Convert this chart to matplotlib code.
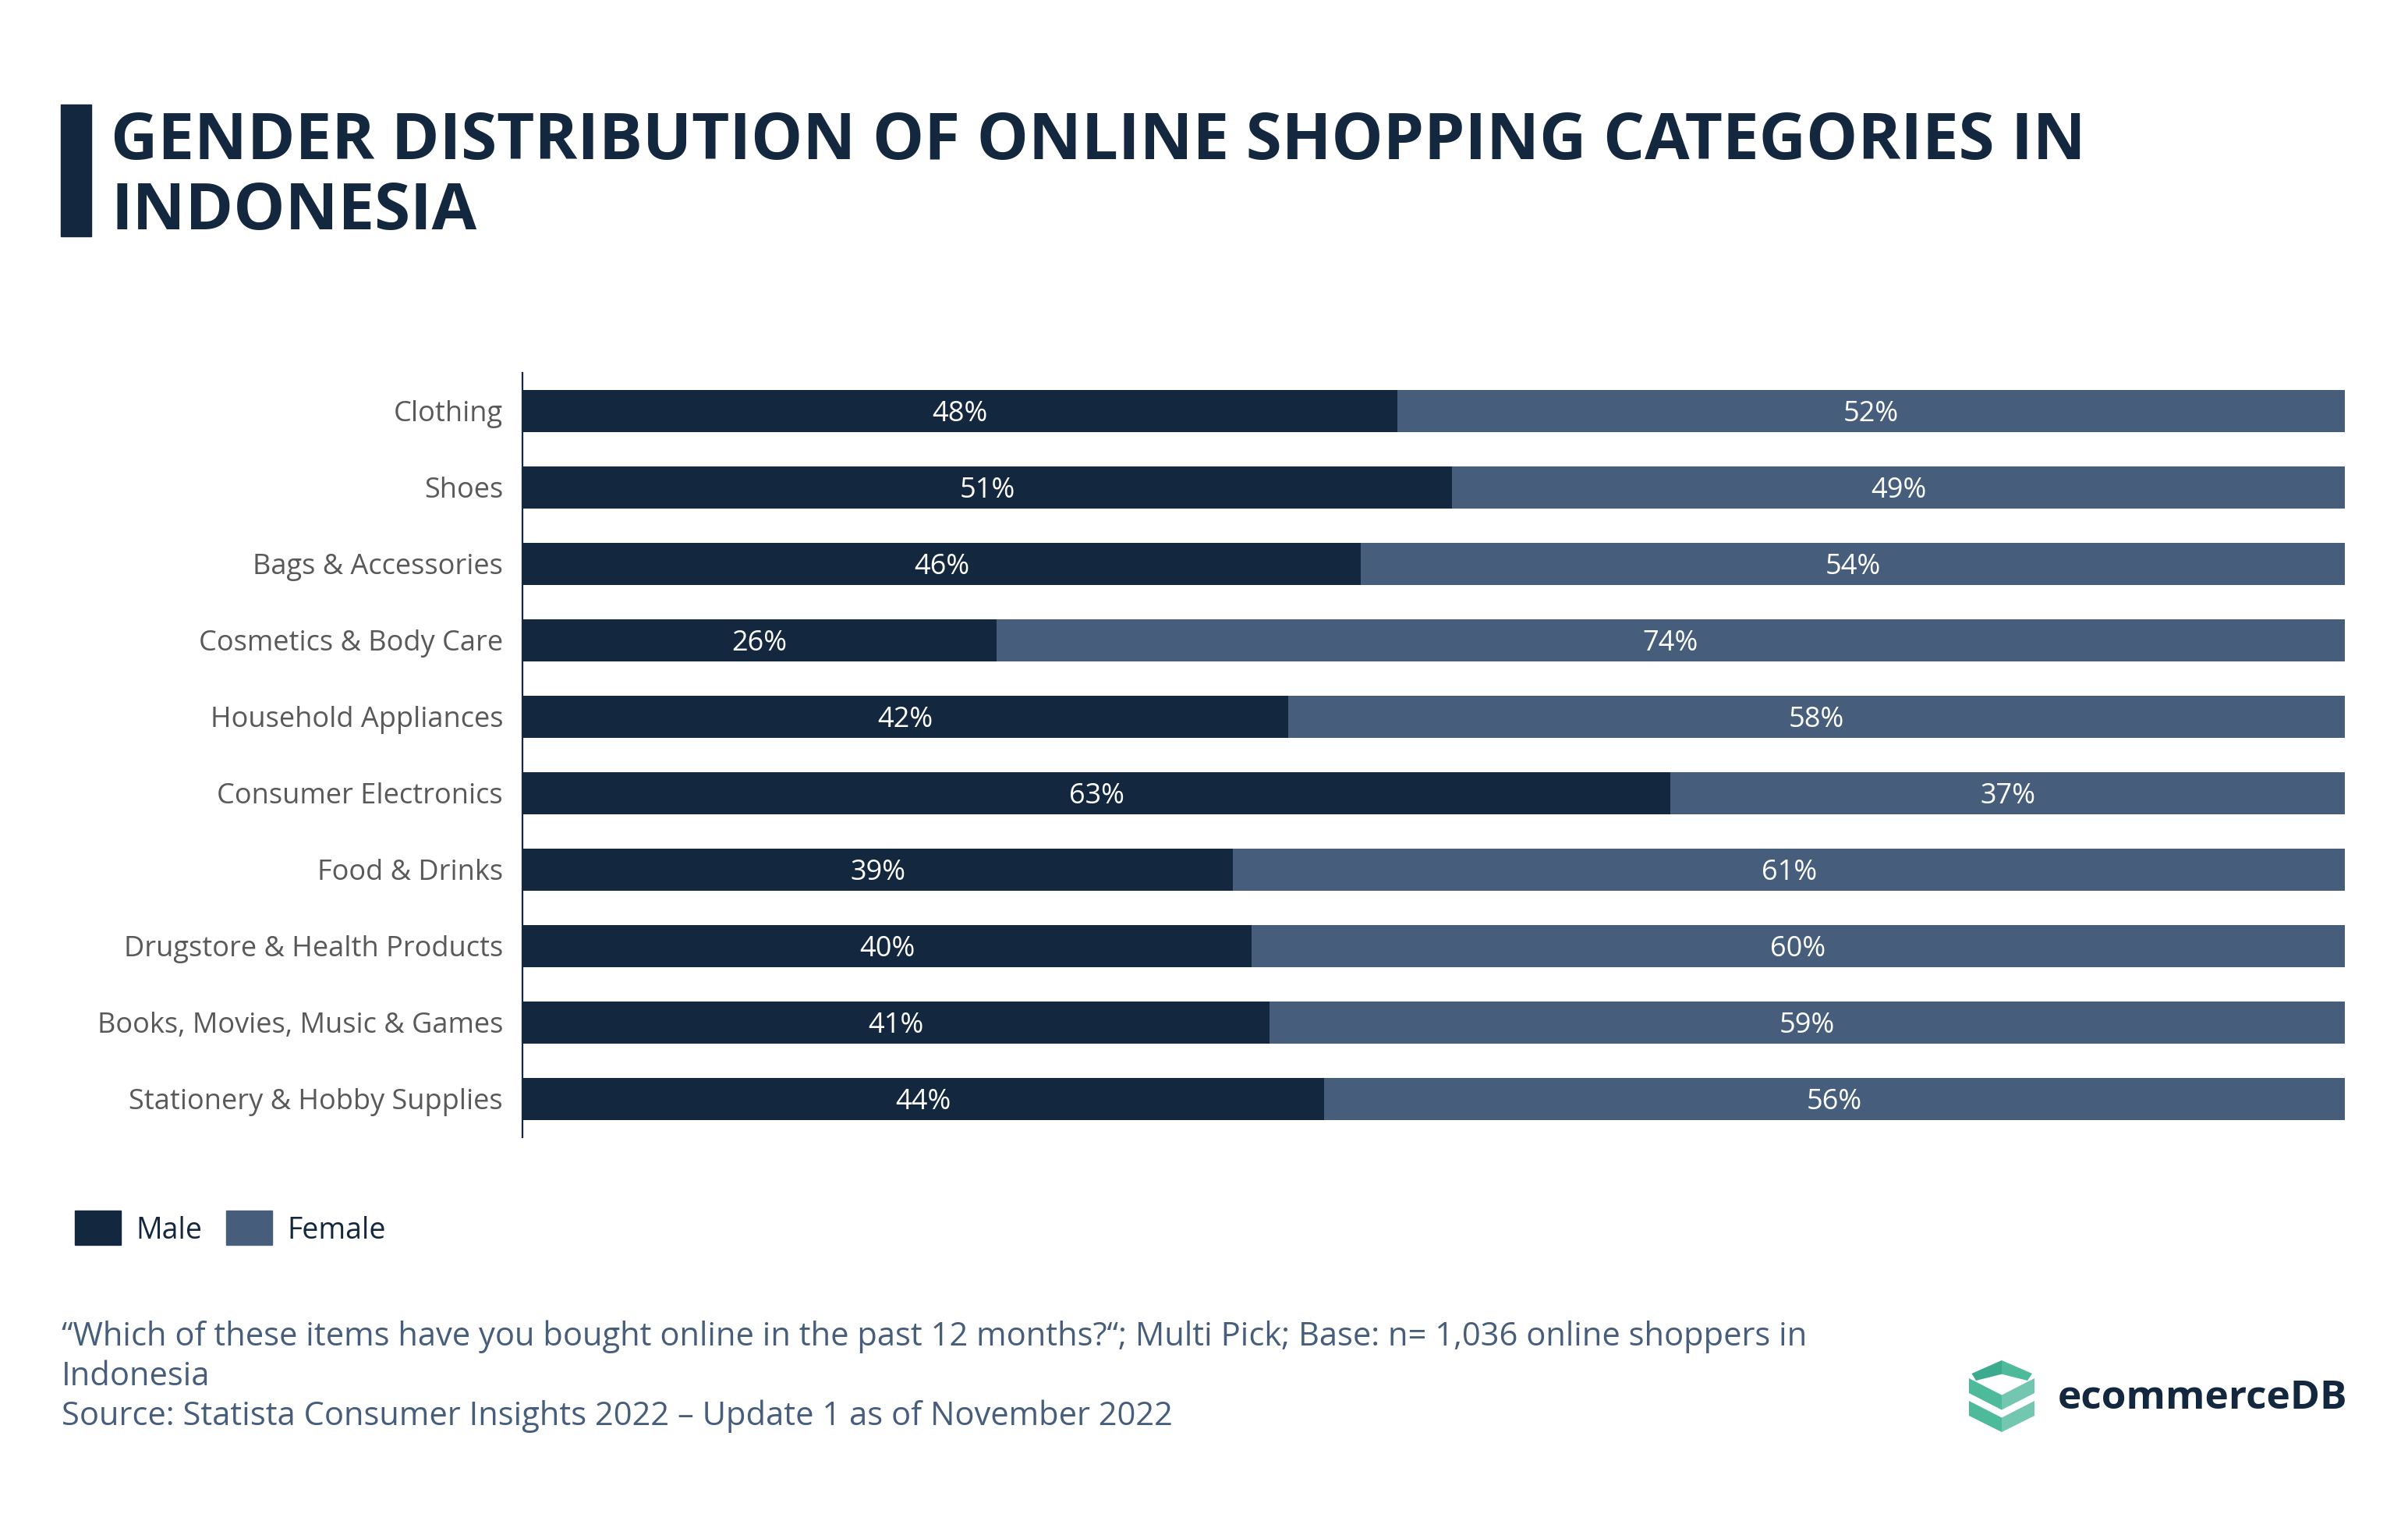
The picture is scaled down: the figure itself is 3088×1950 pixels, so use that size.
import matplotlib
matplotlib.use("Agg")
import matplotlib.pyplot as plt
from matplotlib.patches import Rectangle, Polygon
import numpy as np

plt.rcParams['font.family'] = ['Open Sans', 'DejaVu Sans']

# data
categories = [
    "Clothing",
    "Shoes",
    "Bags & Accessories",
    "Cosmetics & Body Care",
    "Household Appliances",
    "Consumer Electronics",
    "Food & Drinks",
    "Drugstore & Health Products",
    "Books, Movies, Music & Games",
    "Stationery & Hobby Supplies",
]
male = [48, 51, 46, 26, 42, 63, 39, 40, 41, 44]
female = [52, 49, 54, 74, 58, 37, 61, 60, 59, 56]
series_names = ["Male", "Female"]

title_lines = ["GENDER DISTRIBUTION OF ONLINE SHOPPING CATEGORIES IN", "INDONESIA"]
note_lines = [
    "\u201cWhich of these items have you bought online in the past 12 months?\u201c; Multi Pick; Base: n= 1,036 online shoppers in",
    "Indonesia",
    "Source: Statista Consumer Insights 2022 \u2013 Update 1 as of November 2022",
]

MALE_C = "#13273F"
FEMALE_C = "#465E7C"
LABEL_C = "#595959"
NOTE_C = "#465E7C"

W, H = 3088, 1950
fig = plt.figure(figsize=(W / 100, H / 100), dpi=100)
fig.patch.set_facecolor("white")


def fx(px):
    return px / W


def fy(py):
    return 1 - py / H


# title with the accent bar
fig.patches.append(Rectangle((fx(78), fy(303)), fx(117) - fx(78), fy(134) - fy(303),
                             transform=fig.transFigure, color=MALE_C))
fig.text(fx(142), fy(204), title_lines[0], fontsize=60, fontweight="bold",
         color=MALE_C, va="baseline", ha="left")
fig.text(fx(142), fy(294), title_lines[1], fontsize=60, fontweight="bold",
         color=MALE_C, va="baseline", ha="left")

# bars
ax = fig.add_axes([fx(670), fy(1458), fx(3007) - fx(670), fy(478) - fy(1458)])
y = np.arange(len(categories))
ax.barh(y, male, height=0.56, color=MALE_C, label=series_names[0])
ax.barh(y, female, left=male, height=0.56, color=FEMALE_C, label=series_names[1])

for i in range(len(categories)):
    ax.text(male[i] / 2, i, f"{male[i]}%", color="white", fontsize=26,
            ha="center", va="center_baseline")
    ax.text(male[i] + female[i] / 2, i, f"{female[i]}%", color="white", fontsize=26,
            ha="center", va="center_baseline")

ax.set_xlim(0, 100)
ax.set_ylim(len(categories) - 0.5, -0.5)
ax.set_yticks(y)
ax.set_yticklabels(categories, fontsize=26, color=LABEL_C)
ax.set_xticks([])
ax.tick_params(axis="y", length=0, pad=18)
for s in ["top", "right", "bottom"]:
    ax.spines[s].set_visible(False)
ax.spines["left"].set_color(MALE_C)
ax.spines["left"].set_linewidth(1.6)

# legend
for x0, name, c in [(96, series_names[0], MALE_C), (290, series_names[1], FEMALE_C)]:
    fig.patches.append(Rectangle((fx(x0), fy(1596)), fx(59), fy(1552) - fy(1596),
                                 transform=fig.transFigure, color=c))
    fig.text(fx(x0 + 78), fy(1578), name, fontsize=27, color=MALE_C,
             ha="left", va="center")

# footnote
for k, line in enumerate(note_lines):
    fig.text(fx(79), fy(1725 + 51 * k), line, fontsize=30, color=NOTE_C,
             ha="left", va="baseline")

# logo
lax = fig.add_axes([fx(2525), fy(1836), fx(84), fy(1744) - fy(1836)])
lax.set_xlim(0, 84)
lax.set_ylim(92, 0)
lax.axis("off")
cx = 42
shapes = [
    # top cap, left and right halves
    ([(3.5, 17), (cx, 0), (cx, 17.7), (9, 26)], "#3BAA8E"),
    ([(cx, 0), (81, 17), (75, 26), (cx, 17.7)], "#4DBA9A"),
    # middle band
    ([(0, 23), (cx, 44.5), (cx, 63.5), (0, 42)], "#4DBA9A"),
    ([(cx, 44.5), (84, 23), (84, 42), (cx, 63.5)], "#73C6B0"),
    # bottom band
    ([(0, 52), (cx, 73.5), (cx, 92), (0, 71)], "#4DBA9A"),
    ([(cx, 73.5), (84, 52), (84, 71), (cx, 92)], "#73C6B0"),
]
for pts, c in shapes:
    lax.add_patch(Polygon(pts, closed=True, color=c, lw=0))

fig.text(fx(2639), fy(1806), "ecommerceDB", fontsize=37, fontweight="bold",
         color=MALE_C, ha="left", va="baseline")

fig.savefig("out.png", dpi=100, facecolor="white")
